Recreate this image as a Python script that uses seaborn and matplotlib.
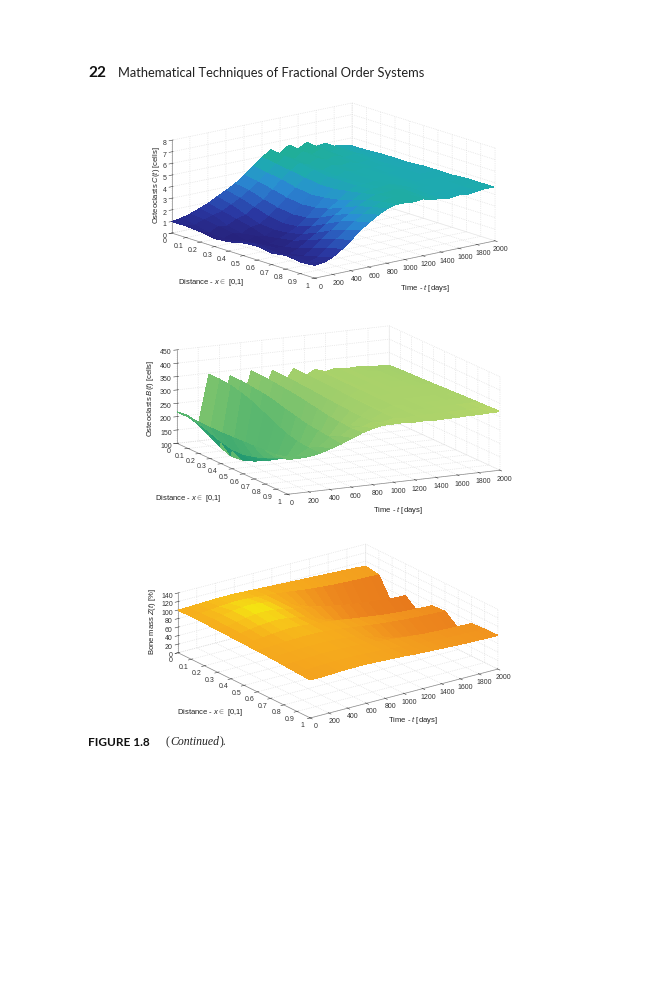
import numpy as np
import matplotlib
matplotlib.use("Agg")
import matplotlib.pyplot as plt
from matplotlib.colors import LinearSegmentedColormap
import seaborn as sns

# grid of the surfaces (distance x rows, time t columns)
x_vals = [0.0, 0.1, 0.2, 0.3, 0.4, 0.5, 0.6, 0.7, 0.8, 0.9, 1.0]
t_vals = [0, 100, 200, 300, 400, 500, 600, 700, 800, 900, 1000,
          1100, 1200, 1300, 1400, 1500, 1600, 1700, 1800, 1900, 2000]

# osteoclasts C(t) [cells]
C_vals = [
    [1.0, 1.1, 1.3, 1.6, 1.9, 2.3, 2.7, 3.1, 3.7, 4.3, 4.9, 5.4, 4.9, 5.5, 5.0, 5.4, 4.9, 5.0, 4.6, 4.5, 4.3],
    [1.0, 0.9, 1.2, 1.4, 1.6, 2.0, 2.4, 2.9, 3.5, 4.1, 4.7, 5.2, 4.8, 5.3, 4.9, 5.2, 4.8, 4.9, 4.6, 4.5, 4.3],
    [0.9, 0.6, 1.0, 0.9, 1.3, 1.5, 2.0, 2.5, 3.2, 3.9, 4.5, 5.0, 4.7, 5.1, 4.8, 5.0, 4.7, 4.8, 4.6, 4.5, 4.4],
    [0.7, 0.5, 0.8, 0.6, 1.0, 1.1, 1.6, 2.2, 2.9, 3.6, 4.3, 4.8, 4.6, 4.9, 4.7, 4.8, 4.6, 4.7, 4.5, 4.5, 4.4],
    [0.8, 0.7, 0.5, 0.8, 0.6, 1.0, 1.4, 2.0, 2.7, 3.4, 4.1, 4.6, 4.5, 4.8, 4.6, 4.7, 4.6, 4.6, 4.5, 4.5, 4.4],
    [1.1, 0.9, 0.6, 0.5, 0.8, 1.1, 1.5, 2.1, 2.8, 3.5, 4.1, 4.6, 4.5, 4.7, 4.6, 4.7, 4.5, 4.6, 4.5, 4.5, 4.5],
    [1.2, 0.8, 0.7, 0.6, 1.0, 1.4, 1.9, 2.5, 3.1, 3.7, 4.3, 4.6, 4.6, 4.7, 4.6, 4.7, 4.5, 4.6, 4.5, 4.5, 4.5],
    [1.0, 0.7, 0.6, 0.9, 1.4, 1.9, 2.5, 3.1, 3.6, 4.1, 4.5, 4.7, 4.7, 4.8, 4.6, 4.7, 4.5, 4.6, 4.5, 4.6, 4.5],
    [1.2, 0.9, 0.8, 1.3, 1.9, 2.5, 3.1, 3.6, 4.1, 4.5, 4.8, 4.8, 4.9, 4.8, 4.7, 4.6, 4.6, 4.6, 4.6, 4.6, 4.6],
    [1.0, 0.8, 1.1, 1.7, 2.3, 2.9, 3.5, 4.0, 4.4, 4.7, 4.9, 4.8, 4.9, 4.7, 4.6, 4.5, 4.6, 4.5, 4.6, 4.7, 4.6],
    [1.1, 1.2, 1.5, 2.0, 2.6, 3.3, 3.8, 4.3, 4.7, 4.9, 4.9, 4.8, 4.9, 4.7, 4.6, 4.5, 4.6, 4.5, 4.6, 4.7, 4.6],
]

# osteoblasts B(t) [cells], middle surface
B_vals = [
    [218, 200, 160, 345, 170, 330, 200, 340, 240, 332, 275, 330, 295, 318, 305, 314, 308, 310, 306, 304, 302],
    [218, 190, 140, 345, 155, 330, 190, 338, 235, 330, 272, 328, 294, 318, 305, 314, 308, 310, 307, 306, 304],
    [217, 175, 115, 340, 135, 325, 180, 335, 230, 328, 270, 326, 293, 317, 305, 314, 309, 311, 308, 307, 306],
    [216, 160, 100, 330, 125, 320, 175, 330, 228, 326, 270, 325, 293, 317, 306, 314, 310, 311, 309, 308, 307],
    [216, 150, 105, 315, 130, 312, 180, 325, 235, 322, 272, 323, 295, 317, 307, 314, 310, 312, 310, 309, 309],
    [218, 150, 120, 295, 145, 300, 190, 318, 245, 318, 278, 320, 298, 316, 308, 314, 311, 312, 311, 311, 311],
    [220, 160, 140, 275, 165, 290, 205, 310, 255, 315, 283, 318, 300, 316, 309, 314, 312, 313, 312, 312, 313],
    [222, 175, 165, 255, 190, 280, 225, 302, 268, 312, 290, 316, 303, 315, 311, 314, 313, 314, 313, 314, 315],
    [225, 195, 190, 245, 215, 275, 250, 298, 282, 310, 297, 315, 307, 315, 312, 314, 314, 315, 315, 316, 317],
    [228, 215, 215, 240, 238, 270, 270, 295, 296, 310, 304, 315, 310, 315, 314, 315, 315, 316, 316, 318, 318],
    [230, 230, 232, 240, 252, 265, 282, 298, 310, 318, 318, 320, 316, 318, 315, 316, 316, 318, 317, 319, 320],
]

# bone mass Z(t) [%], bottom surface
Z_vals = [
    [100, 100, 101, 102, 103, 103, 103, 102, 101, 100, 99, 98, 97, 96, 95, 94, 93, 92, 91, 90, 88],
    [100, 101, 103, 105, 107, 108, 107, 105, 103, 101, 99, 96, 93, 91, 89, 87, 86, 85, 84, 84, 83],
    [100, 102, 106, 110, 113, 114, 112, 108, 102, 95, 86, 77, 68, 60, 52, 46, 41, 37, 34, 32, 30],
    [99, 101, 105, 109, 112, 113, 111, 107, 102, 98, 94, 90, 86, 82, 78, 75, 72, 70, 68, 66, 65],
    [98, 100, 103, 106, 108, 109, 107, 103, 97, 90, 82, 74, 66, 59, 53, 49, 46, 44, 42, 41, 40],
    [97, 98, 100, 102, 104, 105, 104, 102, 99, 97, 94, 91, 88, 85, 82, 79, 77, 75, 74, 73, 72],
    [96, 97, 98, 99, 100, 101, 101, 100, 98, 96, 93, 90, 87, 84, 82, 80, 78, 77, 76, 75, 74],
    [95, 95, 96, 97, 98, 98, 98, 97, 95, 92, 87, 81, 75, 69, 64, 60, 57, 54, 52, 51, 50],
    [93, 93, 94, 95, 96, 96, 96, 95, 94, 92, 90, 88, 86, 84, 82, 80, 79, 78, 77, 77, 76],
    [91, 91, 92, 93, 94, 94, 94, 93, 92, 91, 89, 87, 85, 84, 82, 81, 80, 79, 79, 78, 78],
    [89, 89, 90, 91, 92, 92, 92, 91, 90, 89, 88, 86, 85, 84, 83, 82, 81, 80, 80, 79, 79],
]

x_ticks = [0, 0.1, 0.2, 0.3, 0.4, 0.5, 0.6, 0.7, 0.8, 0.9, 1]
x_ticklabels = ["0", "0.1", "0.2", "0.3", "0.4", "0.5", "0.6", "0.7", "0.8", "0.9", "1"]
t_ticks = [0, 200, 400, 600, 800, 1000, 1200, 1400, 1600, 1800, 2000]
C_ticks = [0, 1, 2, 3, 4, 5, 6, 7, 8]
B_ticks = [100, 150, 200, 250, 300, 350, 400, 450]
Z_ticks = [0, 20, 40, 60, 80, 100, 120, 140]

sns.set_theme(style="white", rc={"grid.color": "#dadada", "grid.linestyle": ":",
                                 "grid.linewidth": 0.5, "xtick.major.width": 0.4,
                                 "ytick.major.width": 0.4})
plt.rcParams["font.family"] = ["Liberation Sans", "DejaVu Sans"]
plt.rcParams["mathtext.fontset"] = "custom"
plt.rcParams["mathtext.rm"] = "Liberation Sans"
plt.rcParams["mathtext.it"] = "Liberation Sans:italic"

cmap_C = sns.blend_palette(["#26217a", "#2a36a0", "#2b62c2", "#2a8fd4", "#1eaab0", "#22b186"], as_cmap=True)
cmap_B = LinearSegmentedColormap.from_list("ob", [(0, "#1a9070"), (0.24, "#2ea372"), (0.48, "#64bb6e"),
                                                  (0.72, "#92c96c"), (0.86, "#acd36a"), (0.94, "#d6e060"),
                                                  (1, "#f0ea55")])
cmap_Z = LinearSegmentedColormap.from_list("bone", [(0, "#df6418"), (0.48, "#ee8a1e"), (0.71, "#f4a31e"),
                                                    (0.83, "#f6ad1c"), (0.93, "#f7c81a"), (1, "#f3e810")])

fig = plt.figure(figsize=(6.66, 10), dpi=100)
X, T = np.meshgrid(x_vals, t_vals, indexing="ij")


def panel(rect, zdata, cmap, vmin, vmax, zlim, zticks, elev, azim, aspect, zoom):
    ax = fig.add_axes(rect, projection="3d")
    ax.set_proj_type("ortho")
    ax.patch.set_alpha(0)
    ax.plot_surface(X, T, np.array(zdata, dtype=float), cmap=cmap, vmin=vmin, vmax=vmax,
                    rstride=1, cstride=1, linewidth=0, antialiased=False)
    ax.set_xlim(0, 1)
    ax.set_ylim(0, 2000)
    ax.set_zlim(*zlim)
    ax.set_xticks(x_ticks)
    ax.set_xticklabels(x_ticklabels)
    ax.set_yticks(t_ticks)
    ax.set_yticklabels([str(v) for v in t_ticks])
    ax.set_zticks(zticks)
    ax.set_zticklabels([str(v) for v in zticks], ha="right")
    ax.zaxis.set_ticks_position("lower")
    ax.view_init(elev=elev, azim=azim)
    ax.set_box_aspect(aspect, zoom=zoom)
    for a in (ax.xaxis, ax.yaxis, ax.zaxis):
        a.pane.fill = False
        a.pane.set_edgecolor("none")
        a.line.set_color("#8a8a8a")
        a.line.set_linewidth(0.5)
    ax.tick_params(axis="both", labelsize=5, colors="#333333", pad=-3)
    ax.tick_params(axis="z", labelsize=5, colors="#333333", pad=-6)
    return ax


panel([0.2462, 0.640, 0.4955, 0.33], C_vals, cmap_C, 0.5, 5.6, (0, 8), C_ticks,
      14.8, -39, (227, 232, 96), 0.996)
panel([0.2538, 0.4205, 0.4955, 0.33], B_vals, cmap_B, 100, 350, (100, 450), B_ticks,
      13.2, -26.4, (249, 237, 96), 1.05)
panel([0.253, 0.1995, 0.4955, 0.33], Z_vals, cmap_Z, 30, 114, (0, 140), Z_ticks,
      21, -36, (225, 232, 64), 0.969)

W, H = 666, 1000


def txt(px, py, s, **kw):
    fig.text(px / W, 1 - py / H, s, **kw)


lab = dict(fontsize=5.5, color="#222222", va="center")
txt(156, 185, "Osteoclasts $C(t)$ [cells]", rotation=90, ha="center", **lab)
txt(178, 283, r"Distance - $x \in$ [0,1]", ha="left", **lab)
txt(400, 288, "Time - $t$ [days]", ha="left", **lab)
txt(151, 398, "Osteoclasts $B(t)$ [cells]", rotation=90, ha="center", **lab)
txt(155, 498, r"Distance - $x \in$ [0,1]", ha="left", **lab)
txt(373, 510, "Time - $t$ [days]", ha="left", **lab)
txt(152, 622, "Bone mass $Z(t)$ [%]", rotation=90, ha="center", **lab)
txt(177, 713, r"Distance - $x \in$ [0,1]", ha="left", **lab)
txt(388, 721, "Time - $t$ [days]", ha="left", **lab)

txt(88, 73, "22", fontsize=11, weight="bold", family="Lato", va="center", color="#111111")
txt(118, 73, "Mathematical Techniques of Fractional Order Systems", fontsize=9.3,
    family="Lato", va="center", color="#222222")
txt(88, 742, "FIGURE 1.8", fontsize=8.5, weight="bold", family="Lato", va="center", color="#111111")
txt(165, 742, "(", fontsize=8.5, family="Liberation Serif", va="center", color="#222222")
txt(170, 742, "Continued", fontsize=8.5, family="Liberation Serif", style="italic", va="center", color="#222222")
txt(220, 742, ").", fontsize=8.5, family="Liberation Serif", va="center", color="#222222")

fig.savefig("out.png", dpi=100, facecolor="white")
